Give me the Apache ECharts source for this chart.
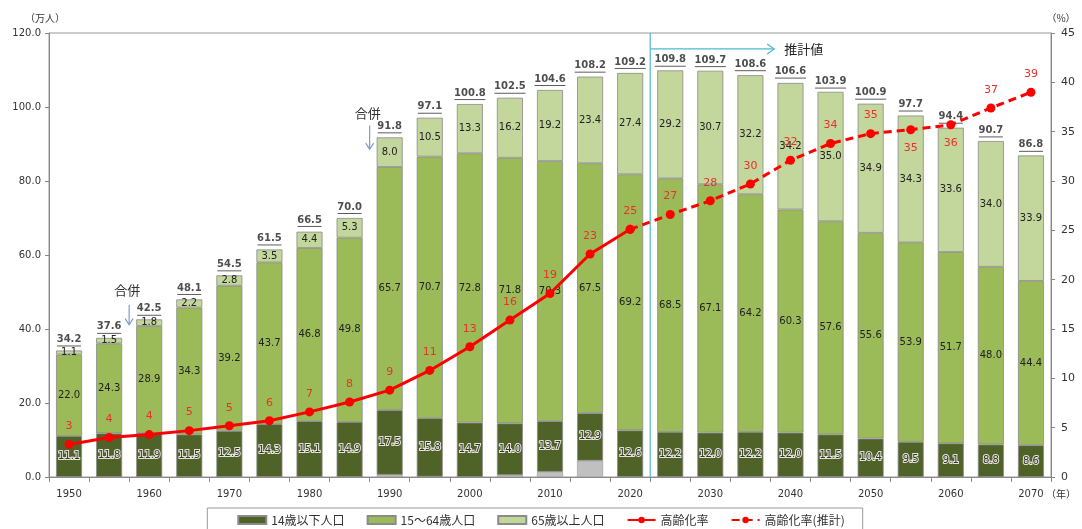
<!DOCTYPE html>
<html>
<head>
<meta charset="utf-8">
<script src="https://cdn.jsdelivr.net/npm/echarts@6/dist/echarts.min.js"></script>
<style>
    html,body{margin:0;padding:0;background:#fff;}
    #main{width:1082px;height:529px;}
</style>
</head>
<body>
<div id="main"></div>
<script>
// 年次
var years = ['1950','1955','1960','1965','1970','1975','1980','1985','1990','1995','2000','2005','2010',
    '2015','2020','2025','2030','2035','2040','2045','2050','2055','2060','2065','2070'];
// 14歳以下人口（万人）
var young = [11.1,11.8,11.9,11.5,12.5,14.3,15.1,14.9,17.5,15.8,14.7,14.0,13.7,
    12.9,12.6,12.2,12.0,12.2,12.0,11.5,10.4,9.5,9.1,8.8,8.6];
// 15～64歳人口
var working = [22.0,24.3,28.9,34.3,39.2,43.7,46.8,49.8,65.7,70.7,72.8,71.8,70.3,
    67.5,69.2,68.5,67.1,64.2,60.3,57.6,55.6,53.9,51.7,48.0,44.4];
// 65歳以上人口
var elderly = [1.1,1.5,1.8,2.2,2.8,3.5,4.4,5.3,8.0,10.5,13.3,16.2,19.2,
    23.4,27.4,29.2,30.7,32.2,34.2,35.0,34.9,34.3,33.6,34.0,33.9];
// 年齢不詳
var unknown = [0,0,0,0,0,0,0,0,0.6,0.1,0,0.5,1.4,
    4.4,0,0,0,0,0,0,0,0,0,0,0];
// 総人口
var totals = [34.2,37.6,42.5,48.1,54.5,61.5,66.5,70.0,91.8,97.1,100.8,102.5,104.6,
    108.2,109.2,109.8,109.7,108.6,106.6,103.9,100.9,97.7,94.4,90.7,86.8];
// 高齢化率（%）
var agingRate = [3.3,4.0,4.3,4.7,5.2,5.7,6.6,7.6,8.8,10.8,13.2,15.9,18.6,
    22.6,25.1,26.6,28.0,29.7,32.1,33.8,34.8,35.2,35.7,37.4,39.0];
// 推計の開始位置（2020）
var lastActual = 14;
// 推計ラベルを点の下に置く年
var rateLabelBelow = ['2055','2060'];

var font = 'DejaVu Sans';
var cjk = '"Noto Sans CJK JP", sans-serif';

var myChart = echarts.init(document.getElementById('main'));

var barLabel = function(color, extra){
    var l = {
        show: true,
        position: 'inside',
        fontFamily: font,
        fontSize: 10,
        color: color,
        formatter: function(p){
            return p.value > 0 ? p.value.toFixed(1) : '';
        }
    };
    for (var k in extra) { l[k] = extra[k]; }
    return l;
};

var solidRate = agingRate.map(function(v, i){ return i <= lastActual ? v : '-'; });
var dashRate = agingRate.map(function(v, i){
    if (i < lastActual) return '-';
    var item = {value: v};
    if (i == lastActual) {
        item.label = {show: false};
    } else if (rateLabelBelow.indexOf(years[i]) >= 0) {
        item.label = {position: 'bottom'};
    }
    return item;
});

var rateLabel = {
    show: true,
    position: 'top',
    distance: 8,
    fontFamily: font,
    fontSize: 11,
    color: '#e8312a',
    formatter: function(p){ return Math.round(p.value); }
};

var option = {
    backgroundColor: '#fff',
    animation: false,
    grid: {
        left: 49,
        right: 31,
        top: 33,
        bottom: 52,
        show: true,
        borderColor: '#999',
        borderWidth: 1
    },
    legend: {
        data: [
            {name: '14歳以下人口', icon: 'rect'},
            {name: '15～64歳人口', icon: 'rect'},
            {name: '65歳以上人口', icon: 'rect'},
            '高齢化率',
            '高齢化率(推計)'
        ],
        left: 'center',
        top: 508,
        itemGap: 22,
        itemWidth: 28,
        itemHeight: 8,
        padding: [6, 18, 6, 30],
        borderColor: '#999',
        borderWidth: 1,
        textStyle: {fontFamily: cjk, fontSize: 12, color: '#333'}
    },
    xAxis: {
        type: 'category',
        data: years,
        axisLine: {lineStyle: {color: '#888'}},
        axisTick: {show: true, interval: 0, length: 5, lineStyle: {color: '#888'}},
        axisLabel: {interval: 1, fontFamily: font, fontSize: 10, color: '#333', margin: 12}
    },
    yAxis: [
        {
            type: 'value',
            min: 0,
            max: 120,
            interval: 20,
            name: '（万人）',
            nameGap: 10,
            nameTextStyle: {fontFamily: cjk, fontSize: 10, color: '#333', align: 'center', padding: [0, 0, 0, -8]},
            axisLine: {show: true, lineStyle: {color: '#888'}},
            axisTick: {show: true, length: 4, lineStyle: {color: '#888'}},
            axisLabel: {fontFamily: font, fontSize: 10, color: '#333', margin: 8,
                formatter: function(v){ return v.toFixed(1); }},
            splitLine: {show: false}
        },
        {
            type: 'value',
            min: 0,
            max: 45,
            interval: 5,
            name: '（%）',
            nameGap: 10,
            nameTextStyle: {fontFamily: cjk, fontSize: 10, color: '#333', align: 'center', padding: [0, 0, 0, 20]},
            axisLine: {show: true, lineStyle: {color: '#888'}},
            axisTick: {show: true, length: 4, lineStyle: {color: '#888'}},
            axisLabel: {fontFamily: font, fontSize: 11, color: '#333', margin: 10},
            splitLine: {show: false}
        }
    ],
    series: [
        {
            name: '不詳',
            type: 'bar',
            stack: 'pop',
            barWidth: 26,
            data: unknown,
            itemStyle: {color: '#c0c0c0', borderColor: '#999', borderWidth: 0.6}
        },
        {
            name: '14歳以下人口',
            type: 'bar',
            stack: 'pop',
            barWidth: 26,
            data: young,
            itemStyle: {color: '#4f6228', borderColor: '#8a8a8a', borderWidth: 0.8},
            label: barLabel('#333', {textBorderColor: '#e6e6d8', textBorderWidth: 2})
        },
        {
            name: '15～64歳人口',
            type: 'bar',
            stack: 'pop',
            barWidth: 26,
            data: working,
            itemStyle: {color: '#9bbb59', borderColor: '#8a8a8a', borderWidth: 0.8},
            label: barLabel('#222')
        },
        {
            name: '65歳以上人口',
            type: 'bar',
            stack: 'pop',
            barWidth: 26,
            data: elderly,
            itemStyle: {color: '#c3d69b', borderColor: '#8a8a8a', borderWidth: 0.8},
            label: barLabel('#222')
        },
        {
            // 総数ラベル（下線付き）
            name: '総数',
            type: 'scatter',
            data: totals,
            symbolSize: 0,
            silent: true,
            z: 5,
            label: {
                show: true,
                position: 'top',
                distance: 4,
                formatter: function(p){
                    var s = p.value.toFixed(1);
                    return '{t|' + s + '}\n{u' + s.length + '|}';
                },
                rich: {
                    t: {fontFamily: font, fontWeight: 'bold', fontSize: 10, color: '#222', lineHeight: 12},
                    u4: {width: 24, height: 1, backgroundColor: '#333'},
                    u5: {width: 31, height: 1, backgroundColor: '#333'}
                }
            }
        },
        {
            name: '高齢化率',
            type: 'line',
            yAxisIndex: 1,
            data: solidRate,
            symbol: 'circle',
            symbolSize: 9,
            z: 10,
            itemStyle: {color: '#ff0000'},
            lineStyle: {color: '#ff0000', width: 3},
            label: rateLabel
        },
        {
            name: '高齢化率(推計)',
            type: 'line',
            yAxisIndex: 1,
            data: dashRate,
            symbol: 'circle',
            symbolSize: 9,
            z: 10,
            itemStyle: {color: '#ff0000'},
            lineStyle: {color: '#ff0000', width: 3, type: [8, 5]},
            label: rateLabel
        }
    ]
};
myChart.setOption(option);

// 注記（合併・推計値の矢印）
var px = function(cat, val){
    return myChart.convertToPixel({xAxisIndex: 0, yAxisIndex: 0}, [cat, val]);
};
var between = function(a, b){
    return (px(a, 0)[0] + px(b, 0)[0]) / 2;
};
var downArrow = function(x, y1, y2, color){
    return [
        {type: 'line', shape: {x1: x, y1: y1, x2: x, y2: y2}, style: {stroke: color, lineWidth: 1.2}},
        {type: 'polyline', shape: {points: [[x - 4, y2 - 6], [x, y2], [x + 4, y2 - 6]]},
            style: {stroke: color, lineWidth: 1.2, fill: null}}
    ];
};
var mergeNote = function(a, b, textVal, topVal, bottomVal){
    var x = between(a, b);
    var items = downArrow(x, px(a, topVal)[1], px(a, bottomVal)[1], '#7f9cc8');
    items.push({
        type: 'text',
        x: x - 2,
        y: px(a, textVal)[1],
        style: {text: '合併', fontFamily: cjk, fontSize: 13, fill: '#333', align: 'center', verticalAlign: 'middle'}
    });
    return items;
};

var graphics = [];
graphics = graphics.concat(mergeNote('1955', '1960', 50.5, 46.5, 41.2));
graphics = graphics.concat(mergeNote('1985', '1990', 98.4, 95.0, 88.6));

// 推計値の区切り
var bx = between(years[lastActual], years[lastActual + 1]);
var yTop = px(years[0], 120)[1];
var yBot = px(years[0], 0)[1];
var yArr = px(years[0], 115.7)[1];
var cyan = '#4bb8d3';
graphics.push(
    {type: 'line', shape: {x1: bx, y1: yTop, x2: bx, y2: yBot}, style: {stroke: cyan, lineWidth: 1.2}, z: 20},
    {type: 'line', shape: {x1: bx, y1: yArr, x2: bx + 124, y2: yArr}, style: {stroke: cyan, lineWidth: 1.2}, z: 20},
    {type: 'polyline', shape: {points: [[bx + 117, yArr - 5], [bx + 124, yArr], [bx + 117, yArr + 5]]},
        style: {stroke: cyan, lineWidth: 1.2, fill: null}, z: 20},
    {type: 'text', x: bx + 134, y: yArr, z: 20,
        style: {text: '推計値', fontFamily: cjk, fontSize: 13, fill: '#222', verticalAlign: 'middle'}}
);

// （年）
var lastX = px(years[years.length - 1], 0)[0];
graphics.push({
    type: 'text', x: lastX + 15, y: yBot + 17,
    style: {text: '（年）', fontFamily: cjk, fontSize: 10, fill: '#333', verticalAlign: 'middle'}
});

myChart.setOption({graphic: graphics});
</script>
</body>
</html>
